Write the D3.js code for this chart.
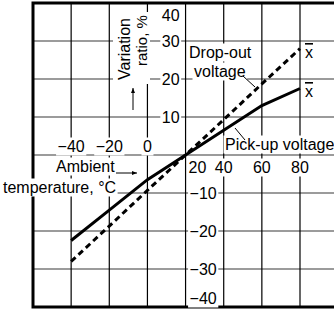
<!DOCTYPE html>
<html>
<head>
<meta charset="utf-8">
<script src="https://d3js.org/d3.v7.min.js"></script>
<style>
  html, body { margin: 0; padding: 0; background: #fff; }
  svg { display: block; }
</style>
</head>
<body>
<div id="chart"></div>
<script>
// data
const tempTicks = [-40, -20, 0, 20, 40, 60, 80];
const ratioTicks = [40, 30, 20, 10, -10, -20, -30, -40];
const pickUpTemp = [-40, -20, 0, 20, 40, 60, 80];
const pickUpRatio = [-22.5, -14.5, -6.5, 0, 6.5, 13, 17.5];
const dropOutTemp = [-40, -20, 0, 20, 40, 60, 80];
const dropOutRatio = [-28, -18.7, -9.3, 0, 9.3, 18.7, 28];

const width = 334, height = 311;
const font = "'Liberation Sans', Arial, sans-serif";

const svg = d3.select("#chart").append("svg")
    .attr("width", width)
    .attr("height", height)
    .attr("viewBox", `0 0 ${width} ${height}`);

// 比例尺
const x = d3.scaleLinear().domain([-60, 80]).range([33, 300]);
const y = d3.scaleLinear().domain([-40, 40]).range([307, 3]);

const grid = svg.append("g");
const labels = svg.append("g");
const marks = svg.append("g");

// 水平网格线 (灰色)
[30, 20, 10, 0, -10, -20, -30].forEach(v => {
    grid.append("line")
        .attr("x1", x(-60)).attr("x2", width)
        .attr("y1", y(v)).attr("y2", y(v))
        .attr("stroke", "#7a7a7a")
        .attr("stroke-width", 1.5);
});

// 垂直网格线 (黑色)
tempTicks.forEach(t => {
    grid.append("line")
        .attr("x1", x(t)).attr("x2", x(t))
        .attr("y1", y(40)).attr("y2", y(-40))
        .attr("stroke", "#000")
        .attr("stroke-width", 1.2);
});

// 外框
grid.append("path")
    .attr("d", `M${width},${y(40)} H${x(-60)} V${y(-40)} H${width}`)
    .attr("fill", "none")
    .attr("stroke", "#000")
    .attr("stroke-width", 3);

// 带白底的文字
function addText(px, py, txt, anchor, opts = {}) {
    const gg = labels.append("g");
    const t = gg.append("text")
        .attr("x", px)
        .attr("y", py)
        .attr("text-anchor", anchor || "start")
        .style("font-family", font)
        .style("font-size", (opts.size || 16) + "px")
        .style("fill", "#000")
        .text(txt);
    if (opts.rotate) t.attr("transform", `rotate(-90, ${px}, ${py})`);
    if (opts.bg !== false) {
        const b = t.node().getBBox();
        const pad = opts.pad == null ? 1.5 : opts.pad;
        gg.insert("rect", "text")
            .attr("x", b.x - pad).attr("y", b.y - pad + 1)
            .attr("width", b.width + pad * 2).attr("height", b.height + pad * 2 - 2)
            .attr("fill", "#fff");
    }
    return t;
}

const fmt = v => (v < 0 ? "\u2212" : "") + Math.abs(v);

// x 轴刻度标签
tempTicks.forEach(t => {
    if (t < 20) addText(x(t), 152, fmt(t), "middle");
    else if (t === 20) addText(x(t) + 3, 173, fmt(t), "start");
    else addText(x(t), 173, fmt(t), "middle");
});

// y 轴刻度标签
ratioTicks.forEach(v => {
    if (v > 0) {
        const py = v === 40 ? 21 : y(v) + 6;
        addText(x(20) - 6, py, fmt(v), "end");
    } else {
        const py = v === -40 ? 304 : y(v) + 6;
        addText(x(20) + 4, py, fmt(v), "start");
    }
});

// y 轴标题 (旋转)
labels.append("rect")
    .attr("x", 113).attr("y", 12).attr("width", 37).attr("height", 72)
    .attr("fill", "#fff");
addText(130, 80, "Variation", "start", { rotate: true, bg: false });
addText(147, 66, "ratio, %", "start", { rotate: true, bg: false, size: 15 });

// x 轴标题
addText(56, 172, "Ambient", "start");
addText(3, 193, "temperature, \u00b0C", "start");

// 注释
addText(189, 58, "Drop-out", "start");
addText(194, 77, "voltage", "start");
addText(225, 150, "Pick-up voltage", "start");

// 箭头
function arrow(x1, y1, x2, y2) {
    labels.append("line")
        .attr("x1", x1).attr("y1", y1).attr("x2", x2).attr("y2", y2)
        .attr("stroke", "#000").attr("stroke-width", 1);
    const a = Math.atan2(y2 - y1, x2 - x1);
    const L = 5, W = 2;
    const p1 = [x2 - L * Math.cos(a) + W * Math.sin(a), y2 - L * Math.sin(a) - W * Math.cos(a)];
    const p2 = [x2 - L * Math.cos(a) - W * Math.sin(a), y2 - L * Math.sin(a) + W * Math.cos(a)];
    labels.append("path")
        .attr("d", `M${x2},${y2} L${p1[0]},${p1[1]} L${p2[0]},${p2[1]} Z`)
        .attr("fill", "#000");
}
arrow(116, 173, 137, 173);
arrow(133, 110, 133, 88);

// 引导线
labels.append("line")
    .attr("x1", 243).attr("y1", 76).attr("x2", 255).attr("y2", 87)
    .attr("stroke", "#000").attr("stroke-width", 1);
labels.append("line")
    .attr("x1", 235).attr("y1", 128).attr("x2", 245).attr("y2", 140)
    .attr("stroke", "#000").attr("stroke-width", 1);

// 数据线
const line = d3.line().x(d => x(d[0])).y(d => y(d[1]));

marks.append("path")
    .datum(pickUpTemp.map((t, i) => [t, pickUpRatio[i]]))
    .attr("d", line)
    .attr("fill", "none")
    .attr("stroke", "#000")
    .attr("stroke-width", 3);

marks.append("path")
    .datum(dropOutTemp.map((t, i) => [t, dropOutRatio[i]]))
    .attr("d", line)
    .attr("fill", "none")
    .attr("stroke", "#000")
    .attr("stroke-width", 3)
    .attr("stroke-dasharray", "6,4");

// x̄ 标记
[58, 97].forEach(py => {
    labels.append("text")
        .attr("x", 305)
        .attr("y", py)
        .style("font-family", font)
        .style("font-size", "16px")
        .style("text-decoration", "overline")
        .text("x");
});
</script>
</body>
</html>
